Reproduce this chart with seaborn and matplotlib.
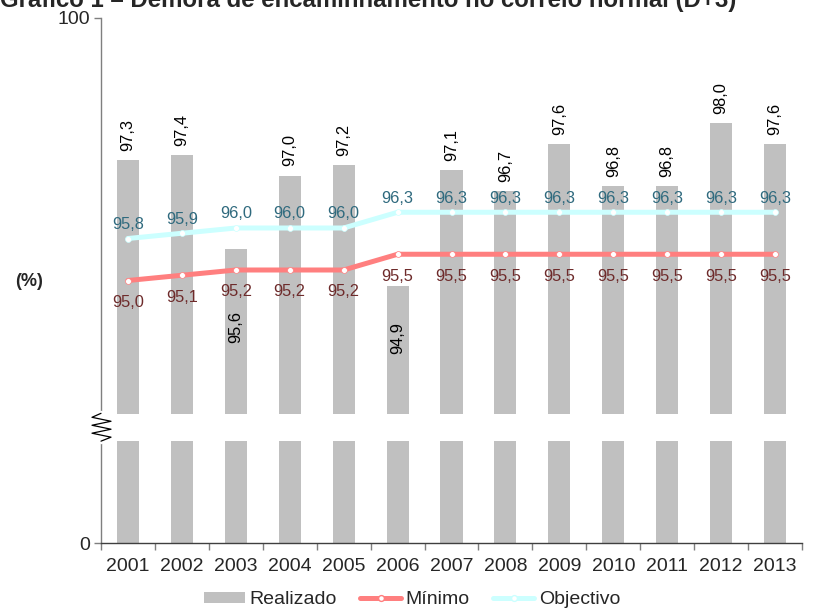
import numpy as np
import pandas as pd
import matplotlib
matplotlib.use("Agg")
import matplotlib.pyplot as plt
import matplotlib.transforms as mtransforms
from matplotlib.patches import Patch
from matplotlib.lines import Line2D
import seaborn as sns

# --- data -------------------------------------------------------------
anos = ["2001", "2002", "2003", "2004", "2005", "2006", "2007",
        "2008", "2009", "2010", "2011", "2012", "2013"]
realizado = [97.3, 97.4, 95.6, 97.0, 97.2, 94.9, 97.1,
             96.7, 97.6, 96.8, 96.8, 98.0, 97.6]
minimo = [95.0, 95.1, 95.2, 95.2, 95.2, 95.5, 95.5,
          95.5, 95.5, 95.5, 95.5, 95.5, 95.5]
objectivo = [95.8, 95.9, 96.0, 96.0, 96.0, 96.3, 96.3,
             96.3, 96.3, 96.3, 96.3, 96.3, 96.3]
eixo_y_ticks = ["0", "100"]

titulo = "Gráfico 1 – Demora de encaminhamento no correio normal (D+3)"

# --- style ------------------------------------------------------------
sns.set_style("white")
plt.rcParams["font.family"] = ["Liberation Sans", "DejaVu Sans"]

COR_BARRA = "#C0C0C0"
COR_MIN = "#FF7F7F"
COR_OBJ = "#CCFFFF"
COR_MIN_TXT = "#6E2B2B"
COR_OBJ_TXT = "#2F6A7E"
LW = 3.6
MS = 4.2

fig = plt.figure(figsize=(8.13, 6.09), dpi=100)
W, H = 813, 609
ax = fig.add_axes([101 / W, 1 - 543 / H, (802 - 101) / W, (543 - 18) / H])

df = pd.DataFrame({"ano": anos, "realizado": realizado})
x = np.arange(len(anos))

# bars: the value axis starts at 90 (shown as a broken axis from 0)
BASE = 90.0
sns.barplot(data=df, x="ano", y="realizado", color=COR_BARRA, width=0.41,
            saturation=1, ax=ax, zorder=1)
for p in ax.patches:
    p.set_edgecolor("none")

ax.set_ylim(BASE, 100)
ax.set_xlim(-0.5, len(anos) - 0.5)

# axis break band across the bars
ax.axhspan(91.95, 92.45, color="white", zorder=2, lw=0)

sns.lineplot(x=x, y=minimo, ax=ax, color=COR_MIN, lw=LW, marker="o",
             markersize=MS, markerfacecolor="white", markeredgecolor=COR_MIN,
             markeredgewidth=0.5, zorder=4)
sns.lineplot(x=x, y=objectivo, ax=ax, color=COR_OBJ, lw=LW, marker="o",
             markersize=MS, markerfacecolor="white", markeredgecolor=COR_OBJ,
             markeredgewidth=0.5, zorder=3)

def fmt(v):
    return f"{v:.1f}".replace(".", ",")

FS = 11.8
pt = 72 / 100  # pixels -> points
# bar value labels (rotated); two sit inside their bars
desloc = {2: -62, 5: -36}
for i, v in enumerate(realizado):
    if i in desloc:
        ax.annotate(fmt(v), (i, v), xytext=(0, desloc[i] * pt),
                    textcoords="offset points", rotation=90, ha="center",
                    va="top", fontsize=FS, color="black", zorder=6)
    else:
        ax.annotate(fmt(v), (i, v), xytext=(0, 9 * pt),
                    textcoords="offset points", rotation=90, ha="center",
                    va="bottom", fontsize=FS, color="black", zorder=6)

for i, v in enumerate(objectivo):
    ax.annotate(fmt(v), (i, v), xytext=(0, 14 * pt), textcoords="offset points",
                ha="center", va="center", fontsize=FS, color=COR_OBJ_TXT, zorder=6)
for i, v in enumerate(minimo):
    ax.annotate(fmt(v), (i, v), xytext=(0, -22 * pt), textcoords="offset points",
                ha="center", va="center", fontsize=FS, color=COR_MIN_TXT, zorder=6)

# --- axes -------------------------------------------------------------
sns.despine(ax=ax, top=True, right=True)
ax.spines["left"].set_color("#7F7F7F")
ax.spines["bottom"].set_color("#3F3F3F")
ax.spines["left"].set_linewidth(1.0)
ax.spines["bottom"].set_linewidth(1.0)

ax.set_yticks([BASE, 100])
ax.set_yticklabels(eixo_y_ticks, fontsize=14)
ax.tick_params(axis="y", length=5, width=1, color="#7F7F7F", pad=3, left=True)

ax.set_xticks(x)
ax.set_xticklabels(anos, fontsize=14)
ax.set_xticks(np.arange(-0.5, len(anos)), minor=True)
ax.tick_params(axis="x", which="major", length=0, pad=11)
ax.tick_params(axis="x", which="minor", length=5, width=1, color="#7F7F7F",
               bottom=True)
ax.set_xlabel("")
ax.set_ylabel("")
ax.grid(False)

# break marker on the value axis
trans = mtransforms.blended_transform_factory(ax.transAxes, ax.transData)
ax.plot([0, 0], [91.93, 92.49], transform=trans, color="white", lw=2.5,
        clip_on=False, zorder=7)
dx = 1 / (802 - 101)
zx = np.array([0, -9, 10, -9, 10, -9, 10, 0]) * dx
zy = np.linspace(92.47, 91.94, len(zx))
ax.plot(zx, zy, transform=trans, color="black", lw=0.9, clip_on=False, zorder=8)

fig.text(15 / W, 1 - 281 / H, "(%)", fontsize=13, fontweight="bold",
         ha="left", va="center")

fig.text(0.0, 1 - 7 / H, titulo, fontsize=17.3, fontweight="bold",
         ha="left", va="baseline")

handles = [
    Patch(facecolor=COR_BARRA, edgecolor="none", label="Realizado"),
    Line2D([], [], color=COR_MIN, lw=LW, marker="o", markersize=MS,
           markerfacecolor="white", markeredgecolor=COR_MIN, label="Mínimo"),
    Line2D([], [], color=COR_OBJ, lw=LW, marker="o", markersize=MS,
           markerfacecolor="white", markeredgecolor=COR_OBJ, label="Objectivo"),
]
fig.legend(handles=handles, loc="center", bbox_to_anchor=(412 / W, 1 - 600 / H),
           ncol=3, frameon=False, fontsize=14, handlelength=2.1,
           handletextpad=0.25, columnspacing=1.2, handleheight=0.55,
           borderpad=0)

fig.savefig("out.png", dpi=100)
